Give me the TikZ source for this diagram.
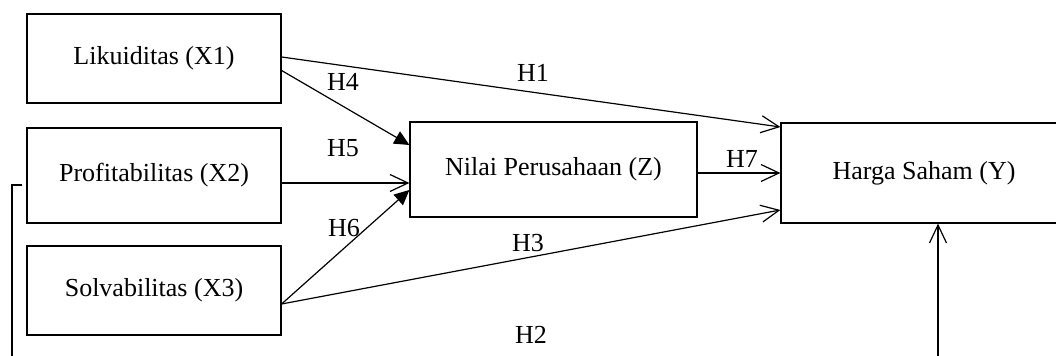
\documentclass[tikz,border=0pt]{standalone}
\usepackage{fontspec}
\setmainfont{Liberation Serif}
\usetikzlibrary{arrows.meta,calc}

\begin{document}
\begin{tikzpicture}[
    x=0.5pt, y=-0.5pt,
    every node/.style={inner sep=0pt, font=\fontsize{13}{15.6}\selectfont},
    varbox/.style={draw, line width=0.6pt, minimum width=127pt, minimum height=44.5pt},
    arr/.style={-{Straight Barb[length=9pt,width=8.5pt]}, line width=0.6pt},
    arrfill/.style={-{Triangle[length=7.5pt,width=7pt]}, line width=0.6pt}
]
    \useasboundingbox (0,0) rectangle (1056,356);

    % 1. Define the nodes
    \node[varbox] (x1) at (154,58.5) {Likuiditas (X1)};
    \node[varbox, minimum height=47.5pt] (x2) at (154,175.5) {Profitabilitas (X2)};
    \node[varbox] (x3) at (154,290.5) {Solvabilitas (X3)};
    \node[varbox, minimum width=143.5pt, minimum height=47.5pt] (z) at (553.5,169.5) {Nilai Perusahaan (Z)};
    \node[varbox, minimum width=143pt, minimum height=50pt] (y) at (924,173) {Harga Saham (Y)};

    % corners of the long H2 path (below the picture)
    \coordinate (loopL) at (12,362);
    \coordinate (loopR) at (938,362);

    % 2. Draw the arrows

    % X1 -> Y (H1)
    \draw[arr] ($(x1.east)+(0,-1.5)$) -- ($(y.west)+(0,-46)$);

    % X1 -> Z (H4)
    \draw[arrfill] ($(x1.east)+(0,12)$) -- ($(z.west)+(0,-24.5)$);

    % X2 -> Z (H5)
    \draw[arr] ($(x2.east)+(0,7.5)$) -- ($(z.west)+(0,13.5)$);

    % X3 -> Z (H6)
    \draw[arrfill] ($(x3.east)+(0,13.5)$) -- ($(z.west)+(0,20.5)$);

    % X3 -> Y (H3)
    \draw[arr] ($(x3.east)+(0,13.5)$) -- ($(y.west)+(0,37)$);

    % Z -> Y (H7)
    \draw[arr] ($(z.east)+(0,3.5)$) -- (y.west);

    % X2 -> Y (H2), round the bottom
    \draw[arr] ($(x2.west)+(-4,9.5)$) -| (loopL) -- (loopR) -- (loopR |- y.south);

    % Hypothesis labels
    \node (h1) at (533,73) {H1};
    \node (h2) at (531,335) {H2};
    \node (h3) at (528,243) {H3};
    \node (h4) at (343,82) {H4};
    \node (h5) at (343,148) {H5};
    \node (h6) at (344,228) {H6};
    \node (h7) at (742,159) {H7};

\end{tikzpicture}
\end{document}
